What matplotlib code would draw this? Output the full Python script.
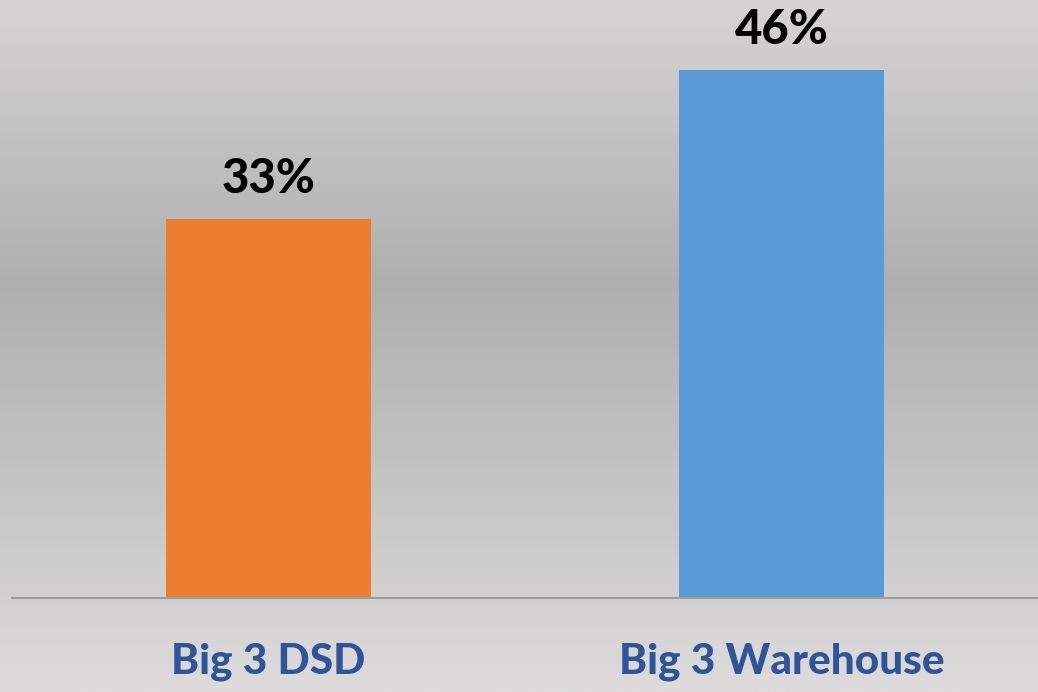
import numpy as np
import matplotlib
matplotlib.use("Agg")
import matplotlib.pyplot as plt
from matplotlib.colors import LinearSegmentedColormap

categories = ["Big 3 DSD", "Big 3 Warehouse"]
values = [0.33, 0.46]
value_labels = ["33%", "46%"]
bar_colors = ["#ED7D31", "#5B9BD5"]

plt.rcParams["font.family"] = ["Lato", "DejaVu Sans"]

W, H, DPI = 1038, 692, 100
fig = plt.figure(figsize=(W / DPI, H / DPI), dpi=DPI)

# vertical grey gradient background
bg = fig.add_axes([0, 0, 1, 1], zorder=0)
bg.set_axis_off()
stops = [(0.0, "#DDDBDC"), (0.59, "#AFAFAF"), (1.0, "#D6D4D5")]
cmap = LinearSegmentedColormap.from_list("bg", stops)
grad = np.linspace(0, 1, 512).reshape(-1, 1)
bg.imshow(grad, aspect="auto", cmap=cmap, origin="lower", extent=[0, 1, 0, 1])
bg.set_xlim(0, 1)
bg.set_ylim(0, 1)

# plot area: baseline at y=598 px, spans x 12..1038
left, right = 12 / W, 1038 / W
bottom = (H - 598) / H
top = 1.0
ax = fig.add_axes([left, bottom, right - left, top - bottom], zorder=1)
ax.patch.set_alpha(0)

x = np.arange(len(categories))
ax.bar(x, values, width=0.4, color=bar_colors, zorder=2)
ax.set_xlim(-0.5, 1.5)
ax.set_ylim(0, 598 / 1148)

for xi, v, lab in zip(x, values, value_labels):
    ax.annotate(lab, (xi, v), xytext=(0, 13), textcoords="offset points",
                ha="center", va="bottom", fontsize=34, fontweight=900,
                color="black", annotation_clip=False)

for s in ["top", "right", "left"]:
    ax.spines[s].set_visible(False)
ax.spines["bottom"].set_color("#9C9C9C")
ax.spines["bottom"].set_linewidth(1.5)
ax.set_yticks([])
ax.set_xticks(x)
ax.set_xticklabels(categories, fontsize=30.5, fontweight=900, color="#2F5597")
ax.tick_params(axis="x", length=0, pad=32)

fig.savefig("out.png", dpi=DPI)
